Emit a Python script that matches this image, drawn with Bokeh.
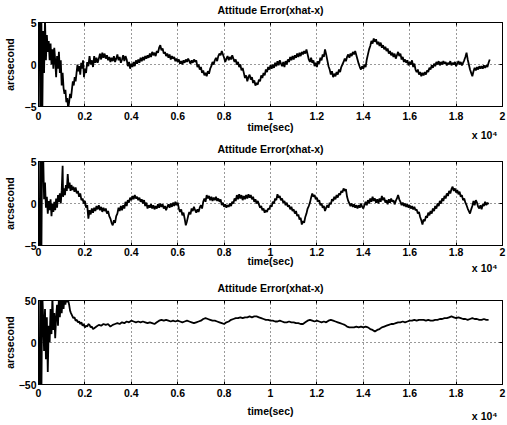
from bokeh.plotting import figure
from bokeh.models import LinearAxis, FixedTicker, Range1d, Title
from bokeh.layouts import column
from bokeh.embed import file_html
from bokeh.resources import INLINE

title_text = "Attitude Error(xhat-x)"
x_label = "time(sec)"
y_label = "arcsecond"
x_scale_note = "x 10\u2074"
x_ticks = [0, 0.2, 0.4, 0.6, 0.8, 1, 1.2, 1.4, 1.6, 1.8, 2]
x_tick_labels = ["0", "0.2", "0.4", "0.6", "0.8", "1", "1.2", "1.4", "1.6", "1.8", "2"]
y_ticks_small = [-5, 0, 5]
y_ticks_large = [-50, 0, 50]

# (time in units of 1e4 s, error in arcsec)
att1 = [
    (0.000, 0), (0.004, 8), (0.008, -8), (0.012, 7), (0.016, -7), (0.020, 4), (0.024, -1), (0.028, 5.5),
    (0.032, 0.5), (0.036, 3.5), (0.040, 1.5), (0.044, 2.8), (0.048, 0.5), (0.052, 2.5), (0.056, 0), (0.060, 1.8),
    (0.064, -0.5), (0.068, 2), (0.072, 0.5), (0.076, -1.5), (0.080, 1), (0.084, -0.5), (0.088, 1.5), (0.092, -1),
    (0.096, 0.5), (0.100, -2.5), (0.104, -1), (0.108, -2.8), (0.112, -3.5), (0.116, -3), (0.120, -4.5), (0.124, -4),
    (0.128, -5.2), (0.132, -4.5), (0.136, -3.5), (0.140, -4), (0.144, -3), (0.148, -2), (0.152, -2.5), (0.156, -1.5),
    (0.160, -2), (0.164, -1), (0.168, 0), (0.172, -0.8), (0.176, -0.2), (0.180, -1.2), (0.184, 0.2), (0.188, -0.5),
    (0.192, 0.5), (0.196, -1.5), (0.200, -0.5), (0.205, -1), (0.210, 0.3), (0.215, -0.2), (0.220, 1), (0.225, 0),
    (0.230, 0.5), (0.235, -0.3), (0.240, 1), (0.245, 0.2), (0.250, 0.8), (0.255, 0.2), (0.260, 0.7), (0.265, 1.3),
    (0.270, 0.6), (0.275, 1.4), (0.280, 0.8), (0.285, 1.3), (0.290, 0.7), (0.295, 1.1), (0.300, 0.5), (0.305, 0.9),
    (0.310, 0.3), (0.315, 0.8), (0.320, 0.4), (0.325, 1.0), (0.330, 0.3), (0.335, 0.7), (0.340, 1.2), (0.345, 0.5),
    (0.350, 0.9), (0.355, 0.2), (0.360, 0.6), (0.365, 1.1), (0.370, 0.4), (0.375, 1.0), (0.380, 0.6), (0.385, -0.2),
    (0.390, 0.3), (0.395, -0.5), (0.400, 0.1), (0.405, -0.3), (0.410, 0.3), (0.415, -0.2), (0.420, 0.5), (0.425, 0.1),
    (0.430, 0.6), (0.435, 0.2), (0.440, 0.8), (0.445, 0.4), (0.450, 0.9), (0.455, 0.5), (0.460, 1.0), (0.465, 0.7),
    (0.470, 1.1), (0.475, 0.8), (0.480, 1.3), (0.485, 0.9), (0.490, 1.5), (0.495, 1.1), (0.500, 1.4), (0.505, 1.0),
    (0.510, 1.6), (0.515, 1.4), (0.520, 2.0), (0.525, 2.3), (0.530, 1.7), (0.535, 1.9), (0.540, 1.3), (0.545, 1.5),
    (0.550, 1.0), (0.555, 1.3), (0.560, 0.8), (0.565, 1.2), (0.570, 0.6), (0.575, 1.0), (0.580, 0.7), (0.585, 0.9),
    (0.590, 0.4), (0.595, 0.7), (0.600, 0.3), (0.605, 0.6), (0.610, 0.1), (0.615, 0.4), (0.620, 0.0), (0.625, 0.5),
    (0.630, 0.2), (0.635, 0.6), (0.640, 0.3), (0.645, 0.7), (0.650, 0.4), (0.655, 0.1), (0.660, 0.5), (0.665, 0.2),
    (0.670, 0.6), (0.675, 0.3), (0.680, 0.5), (0.685, -0.3), (0.690, 0.0), (0.695, -0.6), (0.700, -0.3), (0.705, -1.0),
    (0.710, -0.7), (0.715, -1.3), (0.720, -1.0), (0.725, -1.4), (0.730, -0.8), (0.735, -1.1), (0.740, -0.5), (0.745, -0.2),
    (0.750, 0.3), (0.755, 0.0), (0.760, 0.5), (0.765, 0.8), (0.770, 0.4), (0.775, 1.0), (0.780, 1.3), (0.785, 1.1),
    (0.790, 1.6), (0.795, 1.2), (0.800, 0.8), (0.805, 0.3), (0.810, 0.7), (0.815, 1.0), (0.820, 0.5), (0.825, 0.9),
    (0.830, 0.6), (0.835, 1.1), (0.840, 0.7), (0.845, 0.3), (0.850, 0.6), (0.855, 0.0), (0.860, 0.3), (0.865, -0.3),
    (0.870, 0.0), (0.875, -0.7), (0.880, -0.4), (0.885, -1.0), (0.890, -1.6), (0.895, -1.3), (0.900, -2.0), (0.905, -1.5),
    (0.910, -1.2), (0.915, -1.8), (0.920, -1.5), (0.925, -2.2), (0.930, -1.9), (0.935, -2.5), (0.940, -2.2), (0.945, -2.4),
    (0.950, -1.8), (0.955, -2.0), (0.960, -1.3), (0.965, -1.6), (0.970, -1.0), (0.975, -1.3), (0.980, -0.6), (0.985, -0.9),
    (0.990, -0.3), (0.995, -0.6), (1.000, -0.1), (1.005, -0.5), (1.010, 0.0), (1.015, -0.4), (1.020, 0.2), (1.025, -0.2),
    (1.030, 0.4), (1.035, -0.1), (1.040, 0.5), (1.045, 0.1), (1.050, -0.2), (1.055, 0.3), (1.060, -0.3), (1.065, 0.4),
    (1.070, 0.0), (1.075, 0.6), (1.080, 0.3), (1.085, 0.9), (1.090, 0.5), (1.095, 1.0), (1.100, 0.6), (1.105, 1.1),
    (1.110, 0.8), (1.115, 1.3), (1.120, 0.9), (1.125, 1.4), (1.130, 1.0), (1.135, 1.5), (1.140, 1.2), (1.145, 1.6),
    (1.150, 1.3), (1.155, 1.8), (1.160, 1.2), (1.165, 0.6), (1.170, 0.3), (1.175, 0.8), (1.180, 0.2), (1.185, 0.5),
    (1.190, -0.2), (1.195, 0.2), (1.200, -0.3), (1.205, 0.4), (1.210, 0.1), (1.215, 0.8), (1.220, 0.5), (1.225, 1.2),
    (1.230, 0.9), (1.235, 1.8), (1.240, 1.2), (1.245, 0.5), (1.250, -0.2), (1.255, -0.6), (1.260, -1.2), (1.265, -0.8),
    (1.270, -1.5), (1.275, -1.1), (1.280, -1.4), (1.285, -0.9), (1.290, -1.2), (1.295, -0.6), (1.300, -0.9), (1.305, -0.3),
    (1.310, 0.0), (1.315, 0.3), (1.320, 0.7), (1.325, 0.4), (1.330, 0.9), (1.335, 1.2), (1.340, 0.8), (1.345, 1.3),
    (1.350, 1.0), (1.355, 1.5), (1.360, 1.2), (1.365, 1.6), (1.370, 1.1), (1.375, 0.6), (1.380, 0.1), (1.385, -0.3),
    (1.390, -0.6), (1.395, -0.2), (1.400, -0.5), (1.405, 0.0), (1.410, -0.3), (1.415, 0.6), (1.420, 1.2), (1.425, 1.8),
    (1.430, 2.2), (1.435, 2.8), (1.440, 2.5), (1.445, 3.1), (1.450, 2.7), (1.455, 3.0), (1.460, 2.4), (1.465, 2.7),
    (1.470, 2.2), (1.475, 2.6), (1.480, 2.0), (1.485, 2.3), (1.490, 1.8), (1.495, 2.1), (1.500, 1.6), (1.505, 1.9),
    (1.510, 1.3), (1.515, 1.6), (1.520, 1.1), (1.525, 1.4), (1.530, 0.9), (1.535, 1.3), (1.540, 0.7), (1.545, 1.1),
    (1.550, 1.5), (1.555, 1.0), (1.560, 1.3), (1.565, 0.6), (1.570, 0.9), (1.575, 0.3), (1.580, 0.6), (1.585, 0.2),
    (1.590, 0.5), (1.595, -0.1), (1.600, 0.3), (1.605, 0.0), (1.610, 0.5), (1.615, -0.3), (1.620, 0.1), (1.625, -0.6),
    (1.630, -0.9), (1.635, -0.6), (1.640, -1.2), (1.645, -0.9), (1.650, -1.4), (1.655, -1.0), (1.660, -1.3), (1.665, -0.9),
    (1.670, -1.2), (1.675, -0.7), (1.680, -0.9), (1.685, -0.4), (1.690, -0.6), (1.695, -0.1), (1.700, -0.4), (1.705, 0.1),
    (1.710, -0.2), (1.715, 0.3), (1.720, 0.0), (1.725, 0.4), (1.730, -0.1), (1.735, 0.3), (1.740, 0.0), (1.745, 0.4),
    (1.750, 0.1), (1.755, 0.3), (1.760, -0.1), (1.765, 0.2), (1.770, 0.0), (1.775, 0.4), (1.780, -0.1), (1.785, 0.2),
    (1.790, 0.0), (1.795, 0.3), (1.800, -0.2), (1.805, 0.1), (1.810, 0.4), (1.815, 0.0), (1.820, 0.3), (1.825, -0.1),
    (1.830, 0.2), (1.835, 0.5), (1.840, 0.9), (1.845, 1.4), (1.850, 0.6), (1.855, 0.0), (1.860, -0.6), (1.865, -1.0),
    (1.870, -1.4), (1.875, -0.8), (1.880, -0.4), (1.885, -0.7), (1.890, -0.3), (1.895, -0.6), (1.900, -0.2), (1.905, -0.5),
    (1.910, -0.2), (1.915, -0.5), (1.920, -0.1), (1.925, -0.4), (1.930, -0.1), (1.935, -0.3), (1.940, 0.2), (1.945, 0.6),
]

att2 = [
    (0.000, 0), (0.004, -8), (0.008, 8), (0.012, -8), (0.016, 8), (0.020, 6), (0.024, 0.5), (0.028, 2.5),
    (0.032, -0.5), (0.036, 0.8), (0.040, -1.2), (0.044, 0.3), (0.048, -0.8), (0.052, 0.5), (0.056, -1.5), (0.060, 0.0),
    (0.064, -1.0), (0.068, 0.2), (0.072, -0.8), (0.076, 0.6), (0.080, -0.5), (0.084, 1.0), (0.088, 0.2), (0.092, 1.2),
    (0.096, 0.0), (0.100, 1.5), (0.104, 4.5), (0.106, 0.8), (0.110, 1.8), (0.114, 1.0), (0.118, 2.2), (0.122, 1.5),
    (0.126, 3.5), (0.130, 1.8), (0.134, 2.5), (0.138, 1.5), (0.142, 2.2), (0.146, 1.6), (0.150, 2.0), (0.155, 1.4),
    (0.160, 1.9), (0.165, 1.2), (0.170, 1.5), (0.175, 0.8), (0.180, 1.2), (0.185, 0.4), (0.190, 0.6), (0.195, 0.0),
    (0.200, 0.3), (0.205, -0.5), (0.210, -0.2), (0.215, -1.8), (0.220, -0.8), (0.225, -1.3), (0.230, -0.6), (0.235, -1.1),
    (0.240, -0.5), (0.245, -0.9), (0.250, -0.3), (0.255, -0.7), (0.260, -0.2), (0.265, -0.8), (0.270, -0.4), (0.275, -1.0),
    (0.280, -0.5), (0.285, -0.9), (0.290, -0.6), (0.295, -1.2), (0.300, -0.9), (0.305, -1.5), (0.310, -1.8), (0.315, -2.3),
    (0.320, -2.6), (0.325, -2.0), (0.330, -2.3), (0.335, -1.5), (0.340, -1.2), (0.345, -0.5), (0.350, -0.9), (0.355, -0.3),
    (0.360, -0.8), (0.365, -0.2), (0.370, -0.6), (0.375, 0.2), (0.380, -0.3), (0.385, 0.4), (0.390, 0.1), (0.395, 0.7),
    (0.400, 0.4), (0.405, 0.9), (0.410, 0.5), (0.415, 1.0), (0.420, 0.6), (0.425, 0.8), (0.430, 0.4), (0.435, 0.7),
    (0.440, 0.2), (0.445, 0.5), (0.450, 0.0), (0.455, 0.4), (0.460, -0.3), (0.465, 0.1), (0.470, -0.6), (0.475, -0.2),
    (0.480, -0.5), (0.485, -0.1), (0.490, -0.6), (0.495, -0.2), (0.500, -0.7), (0.505, -0.3), (0.510, -0.6), (0.515, -0.1),
    (0.520, -0.5), (0.525, 0.0), (0.530, -0.4), (0.535, -0.1), (0.540, -0.6), (0.545, -0.3), (0.550, -0.8), (0.555, -0.4),
    (0.560, -0.1), (0.565, -0.5), (0.570, 0.0), (0.575, -0.4), (0.580, 0.1), (0.585, -0.3), (0.590, 0.2), (0.595, -0.2),
    (0.600, 0.1), (0.605, -0.6), (0.610, -1.0), (0.615, -0.7), (0.620, -1.4), (0.625, -1.1), (0.630, -1.8), (0.635, -2.6),
    (0.640, -2.1), (0.645, -1.5), (0.650, -1.0), (0.655, -1.3), (0.660, -0.6), (0.665, -0.9), (0.670, -0.4), (0.675, -0.8),
    (0.680, -1.1), (0.685, -0.7), (0.690, -1.0), (0.695, -0.5), (0.700, -0.2), (0.705, -0.6), (0.710, 0.2), (0.715, 0.6),
    (0.720, 0.2), (0.725, 1.0), (0.730, 0.6), (0.735, 0.9), (0.740, 0.4), (0.745, 0.8), (0.750, 0.3), (0.755, 0.7),
    (0.760, 0.4), (0.765, 0.8), (0.770, 0.3), (0.775, 0.6), (0.780, 0.2), (0.785, 0.5), (0.790, -0.2), (0.795, 0.1),
    (0.800, -0.4), (0.805, -0.1), (0.810, -0.5), (0.815, -0.2), (0.820, -0.4), (0.825, 0.0), (0.830, -0.3), (0.835, 0.2),
    (0.840, 0.0), (0.845, 0.6), (0.850, 0.3), (0.855, 1.0), (0.860, 0.5), (0.865, 1.1), (0.870, 0.6), (0.875, 1.0),
    (0.880, 0.4), (0.885, 0.9), (0.890, 0.5), (0.895, 1.0), (0.900, 0.6), (0.905, 1.1), (0.910, 0.7), (0.915, 1.0),
    (0.920, 0.5), (0.925, 0.8), (0.930, 0.2), (0.935, 0.5), (0.940, 0.0), (0.945, 0.3), (0.950, -0.1), (0.955, -0.5),
    (0.960, -0.3), (0.965, -0.8), (0.970, -0.6), (0.975, -1.1), (0.980, -0.8), (0.985, -1.0), (0.990, -0.6), (0.995, -0.7),
    (1.000, -0.2), (1.005, -0.4), (1.010, 0.2), (1.015, 0.0), (1.020, 0.6), (1.025, 0.4), (1.030, 1.1), (1.035, 0.7),
    (1.040, 0.9), (1.045, 0.4), (1.050, 0.6), (1.055, 0.1), (1.060, 0.3), (1.065, -0.2), (1.070, 0.1), (1.075, -0.4),
    (1.080, -0.2), (1.085, -0.7), (1.090, -0.4), (1.095, -0.9), (1.100, -0.7), (1.105, -1.2), (1.110, -0.9), (1.115, -1.5),
    (1.120, -1.3), (1.125, -1.9), (1.130, -1.7), (1.135, -2.5), (1.140, -2.1), (1.145, -2.3), (1.150, -1.6), (1.155, -1.2),
    (1.160, -0.6), (1.165, -0.3), (1.170, 0.1), (1.175, 0.7), (1.180, 1.2), (1.185, 0.8), (1.190, 1.0), (1.195, 0.5),
    (1.200, 0.7), (1.205, 0.2), (1.210, 0.4), (1.215, -0.2), (1.220, 0.0), (1.225, -0.5), (1.230, -0.3), (1.235, -0.9),
    (1.240, -0.5), (1.245, -0.2), (1.250, -0.5), (1.255, 0.1), (1.260, -0.1), (1.265, 0.5), (1.270, 0.3), (1.275, 0.8),
    (1.280, 0.5), (1.285, 1.0), (1.290, 0.7), (1.295, 1.2), (1.300, 1.0), (1.305, 1.5), (1.310, 1.3), (1.315, 1.8),
    (1.320, 1.5), (1.325, 1.7), (1.330, 0.8), (1.335, 0.3), (1.340, 0.0), (1.345, -0.3), (1.350, 0.0), (1.355, -0.4),
    (1.360, -0.1), (1.365, -0.5), (1.370, -0.2), (1.375, -0.6), (1.380, -0.2), (1.385, -0.5), (1.390, 0.0), (1.395, -0.4),
    (1.400, -0.6), (1.405, -0.2), (1.410, 0.2), (1.415, -0.2), (1.420, 0.4), (1.425, 0.0), (1.430, 0.6), (1.435, 0.2),
    (1.440, 0.8), (1.445, 0.3), (1.450, 0.6), (1.455, 0.1), (1.460, 0.5), (1.465, 0.0), (1.470, 0.6), (1.475, 0.2),
    (1.480, 0.9), (1.485, 0.4), (1.490, 0.7), (1.495, 0.1), (1.500, 0.4), (1.505, -0.1), (1.510, 0.5), (1.515, 0.1),
    (1.520, 0.6), (1.525, 0.2), (1.530, 0.4), (1.535, -0.1), (1.540, 0.3), (1.545, 0.6), (1.550, 1.0), (1.555, 0.5),
    (1.560, 0.2), (1.565, -0.2), (1.570, 0.1), (1.575, -0.3), (1.580, 0.0), (1.585, -0.4), (1.590, -0.1), (1.595, -0.5),
    (1.600, -0.2), (1.605, -0.6), (1.610, -0.3), (1.615, -0.7), (1.620, -0.4), (1.625, -0.8), (1.630, -0.7), (1.635, -1.2),
    (1.640, -1.0), (1.645, -1.6), (1.650, -2.0), (1.655, -2.5), (1.660, -1.9), (1.665, -2.1), (1.670, -1.5), (1.675, -1.7),
    (1.680, -1.1), (1.685, -1.4), (1.690, -0.9), (1.695, -1.2), (1.700, -0.6), (1.705, -0.9), (1.710, -0.3), (1.715, -0.6),
    (1.720, 0.0), (1.725, -0.3), (1.730, 0.3), (1.735, 0.0), (1.740, 0.6), (1.745, 0.3), (1.750, 0.9), (1.755, 0.6),
    (1.760, 1.2), (1.765, 0.9), (1.770, 1.5), (1.775, 1.2), (1.780, 1.7), (1.785, 2.0), (1.790, 1.5), (1.795, 1.8),
    (1.800, 1.3), (1.805, 1.6), (1.810, 1.1), (1.815, 1.4), (1.820, 0.8), (1.825, 1.0), (1.830, 0.4), (1.835, 0.6),
    (1.840, 0.1), (1.845, -0.2), (1.850, -0.6), (1.855, -0.9), (1.860, -1.2), (1.865, -0.7), (1.870, -0.3), (1.875, 0.3),
    (1.880, -0.2), (1.885, 0.4), (1.890, 0.1), (1.895, -0.4), (1.900, -0.6), (1.905, -0.2), (1.910, -0.7), (1.915, -0.1),
    (1.920, -0.3), (1.925, 0.2), (1.930, -0.2), (1.935, 0.1), (1.940, -0.1),
]

att3 = [
    (0.000, 0), (0.004, -80), (0.008, 80), (0.012, -80), (0.016, 60), (0.020, 30), (0.024, -10), (0.028, 40),
    (0.032, -20), (0.036, 30), (0.040, -35), (0.044, 20), (0.048, 0), (0.052, 40), (0.056, 10), (0.060, 55),
    (0.064, 15), (0.068, 35), (0.072, 5), (0.076, 30), (0.080, 45), (0.084, 20), (0.088, 55), (0.092, 30),
    (0.096, 50), (0.100, 35), (0.104, 55), (0.108, 40), (0.112, 55), (0.116, 45), (0.120, 55), (0.124, 48),
    (0.128, 50), (0.132, 45), (0.136, 38), (0.140, 35), (0.145, 32), (0.150, 29), (0.155, 30), (0.160, 26),
    (0.165, 27), (0.170, 24), (0.175, 25), (0.180, 22), (0.185, 24), (0.190, 20), (0.195, 22), (0.200, 18),
    (0.205, 20), (0.210, 19), (0.215, 22), (0.220, 21), (0.225, 18), (0.230, 19), (0.235, 16), (0.240, 17),
    (0.250, 19), (0.260, 21), (0.270, 20), (0.280, 22), (0.290, 21), (0.300, 22), (0.310, 19), (0.320, 21),
    (0.330, 22), (0.340, 23), (0.350, 22), (0.360, 24), (0.370, 23), (0.380, 25), (0.390, 24), (0.400, 26),
    (0.410, 25), (0.420, 24), (0.430, 25), (0.440, 24), (0.450, 25), (0.460, 24), (0.470, 23), (0.480, 24),
    (0.490, 23), (0.500, 22), (0.510, 24), (0.520, 26), (0.530, 27), (0.540, 26), (0.550, 27), (0.560, 26),
    (0.570, 25), (0.580, 26), (0.590, 25), (0.600, 26), (0.610, 25), (0.620, 24), (0.630, 25), (0.640, 26),
    (0.650, 25), (0.660, 24), (0.670, 23), (0.680, 24), (0.690, 25), (0.700, 26), (0.710, 28), (0.720, 29),
    (0.730, 28), (0.740, 27), (0.750, 26), (0.760, 26), (0.770, 25), (0.780, 24), (0.790, 23), (0.800, 22),
    (0.810, 24), (0.820, 25), (0.830, 27), (0.840, 28), (0.850, 29), (0.860, 29), (0.870, 30), (0.880, 29),
    (0.890, 30), (0.900, 30), (0.910, 31), (0.920, 30), (0.930, 31), (0.940, 31), (0.950, 30), (0.960, 29),
    (0.970, 28), (0.980, 27), (0.990, 27), (1.000, 26), (1.010, 26), (1.020, 25), (1.030, 25), (1.040, 26),
    (1.050, 25), (1.060, 24), (1.070, 24), (1.080, 25), (1.090, 24), (1.100, 24), (1.110, 23), (1.120, 23),
    (1.130, 22), (1.140, 22), (1.150, 24), (1.160, 26), (1.170, 27), (1.180, 26), (1.190, 25), (1.200, 26),
    (1.210, 25), (1.220, 24), (1.230, 25), (1.240, 24), (1.250, 26), (1.260, 27), (1.270, 26), (1.280, 25),
    (1.290, 24), (1.300, 23), (1.310, 22), (1.320, 21), (1.330, 19), (1.340, 18), (1.350, 18), (1.360, 18),
    (1.370, 19), (1.380, 18), (1.390, 19), (1.400, 18), (1.410, 19), (1.420, 18), (1.430, 16), (1.440, 15),
    (1.450, 13), (1.460, 15), (1.470, 16), (1.480, 18), (1.490, 19), (1.500, 20), (1.510, 21), (1.520, 22),
    (1.530, 22), (1.540, 23), (1.550, 24), (1.560, 24), (1.570, 25), (1.580, 24), (1.590, 25), (1.600, 26),
    (1.610, 26), (1.620, 27), (1.630, 26), (1.640, 27), (1.650, 27), (1.660, 27), (1.670, 26), (1.680, 27),
    (1.690, 26), (1.700, 26), (1.710, 27), (1.720, 27), (1.730, 28), (1.740, 28), (1.750, 29), (1.760, 29),
    (1.770, 30), (1.780, 31), (1.790, 30), (1.800, 29), (1.810, 30), (1.820, 29), (1.830, 28), (1.840, 28),
    (1.850, 27), (1.860, 28), (1.870, 29), (1.880, 28), (1.890, 28), (1.900, 27), (1.910, 27), (1.920, 28),
    (1.930, 27), (1.940, 27),
]

FONT = "Liberation Sans"
FS = "10.5px"


def style_text(obj, prefix):
    setattr(obj, prefix + "_text_font", FONT)
    setattr(obj, prefix + "_text_font_style", "bold")
    setattr(obj, prefix + "_text_color", "black")


def make_fig(series, y_ticks, cfg):
    ymin, ymax = y_ticks[0], y_ticks[-1]
    p = figure(frame_width=464, frame_height=84, output_backend="svg", toolbar_location=None,
               x_range=Range1d(0, 2), y_range=Range1d(ymin, ymax),
               x_axis_location=None, y_axis_location=None,
               min_border_left=31, min_border_right=4, min_border_top=0,
               min_border_bottom=cfg["bottom"])
    p.background_fill_color = "white"
    p.border_fill_color = "white"
    p.outline_line_color = "black"
    p.outline_line_width = 1

    overrides = {t: s for t, s in zip(x_ticks, x_tick_labels)}
    for loc in ("below", "above"):
        ax = LinearAxis(ticker=FixedTicker(ticks=x_ticks))
        ax.major_label_overrides = overrides
        ax.major_tick_in = 3
        ax.major_tick_out = 0
        ax.minor_tick_in = 0
        ax.minor_tick_out = 0
        ax.axis_line_color = "black"
        ax.major_tick_line_color = "black"
        style_text(ax, "major_label")
        style_text(ax, "axis_label")
        ax.axis_label_text_font_size = FS
        if loc == "below":
            ax.major_label_text_font_size = FS
            ax.major_label_standoff = cfg["tick_so"]
            ax.axis_label = x_label
            ax.axis_label_standoff = cfg["xlab_so"]
        else:
            ax.major_label_text_font_size = "0px"
            ax.major_label_standoff = 0
            ax.axis_label = title_text
            ax.axis_label_standoff = cfg["title_so"]
        p.add_layout(ax, loc)

    note = Title(text=x_scale_note, align="right", vertical_align="top", offset=5,
                 standoff=cfg["note_so"],
                 text_font=FONT, text_font_style="bold", text_font_size=FS, text_color="black")
    p.add_layout(note, "below")

    for loc in ("left", "right"):
        ay = LinearAxis(ticker=FixedTicker(ticks=y_ticks))
        ay.major_tick_in = 3
        ay.major_tick_out = 0
        ay.minor_tick_in = 0
        ay.minor_tick_out = 0
        ay.axis_line_color = "black"
        ay.major_tick_line_color = "black"
        style_text(ay, "major_label")
        if loc == "left":
            ay.major_label_text_font_size = FS
            ay.major_label_standoff = 2
            ay.axis_label = y_label
            ay.axis_label_standoff = cfg["ylab_so"]
            style_text(ay, "axis_label")
            ay.axis_label_text_font_size = FS
        else:
            ay.major_label_text_font_size = "0px"
            ay.major_label_standoff = 0
        p.add_layout(ay, loc)

    p.xgrid.ticker = FixedTicker(ticks=x_ticks)
    p.ygrid.ticker = FixedTicker(ticks=y_ticks)
    for g in (p.xgrid, p.ygrid):
        g.grid_line_color = "black"
        g.grid_line_dash = "1 3"
        g.grid_line_width = 1
        g.grid_line_alpha = 0.8

    xs = [a for a, b in series]
    ys = [b for a, b in series]
    p.line(xs, ys, line_color="black", line_width=1.8)
    return p


p1 = make_fig(att1, y_ticks_small, dict(tick_so=5, xlab_so=-2, note_so=-14, title_so=7, ylab_so=6, bottom=33))
p2 = make_fig(att2, y_ticks_small, dict(tick_so=2, xlab_so=-4, note_so=-15, title_so=7, ylab_so=6, bottom=33))
p3 = make_fig(att3, y_ticks_large, dict(tick_so=4, xlab_so=5, note_so=-20, title_so=7, ylab_so=0, bottom=37))

layout = column(p1, p2, p3, spacing=0)
open("out.html", "w").write(file_html(layout, INLINE))
